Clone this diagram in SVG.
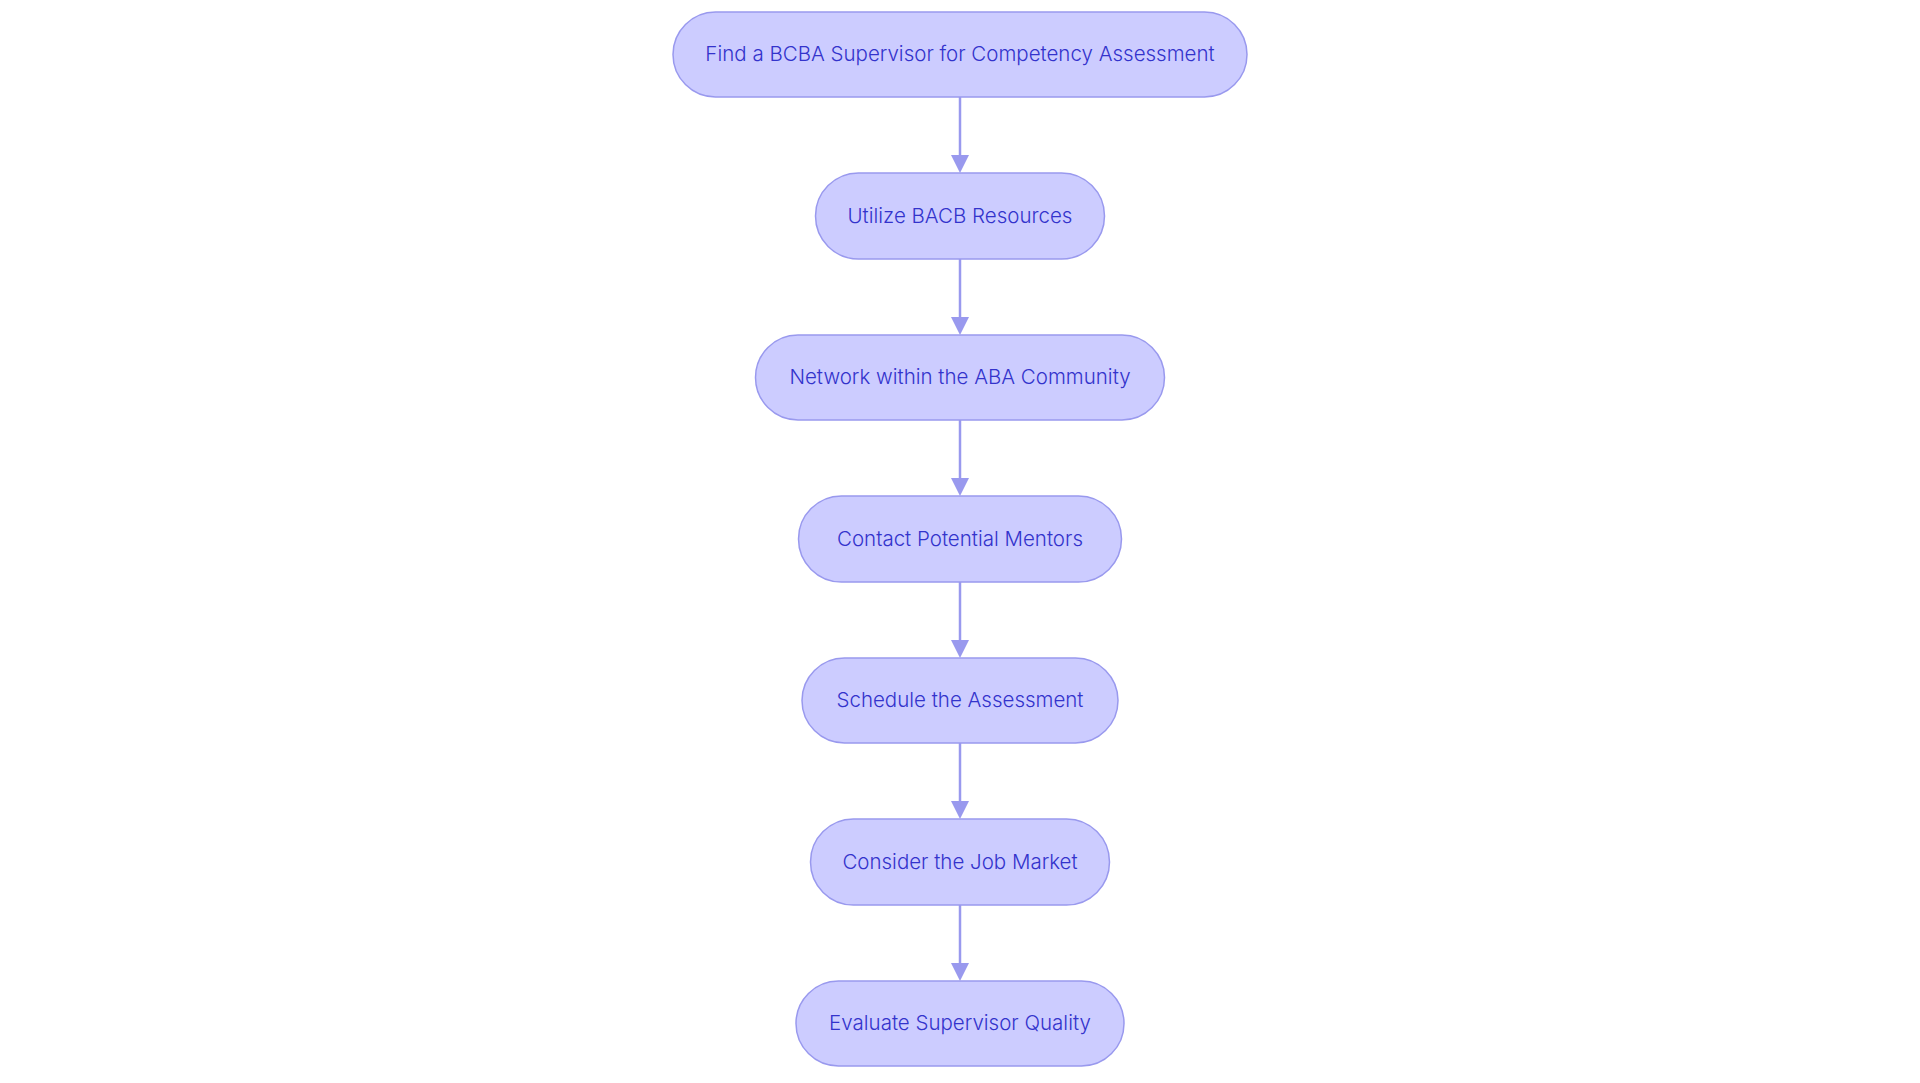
<svg xmlns="http://www.w3.org/2000/svg" width="1920" height="1083" viewBox="0 0 1920 1083">
<style>
.n rect{fill:#ccccff;stroke:#9999ee;stroke-width:1.5}
.n text{font-family:Inter,"Noto Sans",sans-serif;font-size:20.5px;font-weight:300;fill:#3333cc;text-anchor:middle;dominant-baseline:central}
.e{stroke:#9999ee;stroke-width:2.5;fill:none}
.h{fill:#9999ee}
</style>
<rect width="1920" height="1083" fill="#fff"/>
<g id="edges">
<path class="e" d="M960,97V160"/><path class="h" d="M951,155L960,173L969,155z"/>
<path class="e" d="M960,259V322"/><path class="h" d="M951,317L960,335L969,317z"/>
<path class="e" d="M960,420V483"/><path class="h" d="M951,478L960,496L969,478z"/>
<path class="e" d="M960,582V645"/><path class="h" d="M951,640L960,658L969,640z"/>
<path class="e" d="M960,743V806"/><path class="h" d="M951,801L960,819L969,801z"/>
<path class="e" d="M960,905V968"/><path class="h" d="M951,963L960,981L969,963z"/>
</g>
<g id="n1" class="n"><rect x="673" y="12" width="574" height="85" rx="42.5"/><text x="960" y="53">Find a BCBA Supervisor for Competency Assessment</text></g>
<g id="n2" class="n"><rect x="815.5" y="173" width="289" height="86" rx="43"/><text x="960" y="215">Utilize BACB Resources</text></g>
<g id="n3" class="n"><rect x="755.5" y="335" width="409" height="85" rx="42.5"/><text x="960" y="376">Network within the ABA Community</text></g>
<g id="n4" class="n"><rect x="798.5" y="496" width="323" height="86" rx="43"/><text x="960" y="538">Contact Potential Mentors</text></g>
<g id="n5" class="n"><rect x="802" y="658" width="316" height="85" rx="42.5"/><text x="960" y="699">Schedule the Assessment</text></g>
<g id="n6" class="n"><rect x="810.5" y="819" width="299" height="86" rx="43"/><text x="960" y="861">Consider the Job Market</text></g>
<g id="n7" class="n"><rect x="796" y="981" width="328" height="85" rx="42.5"/><text x="960" y="1022">Evaluate Supervisor Quality</text></g>
</svg>
